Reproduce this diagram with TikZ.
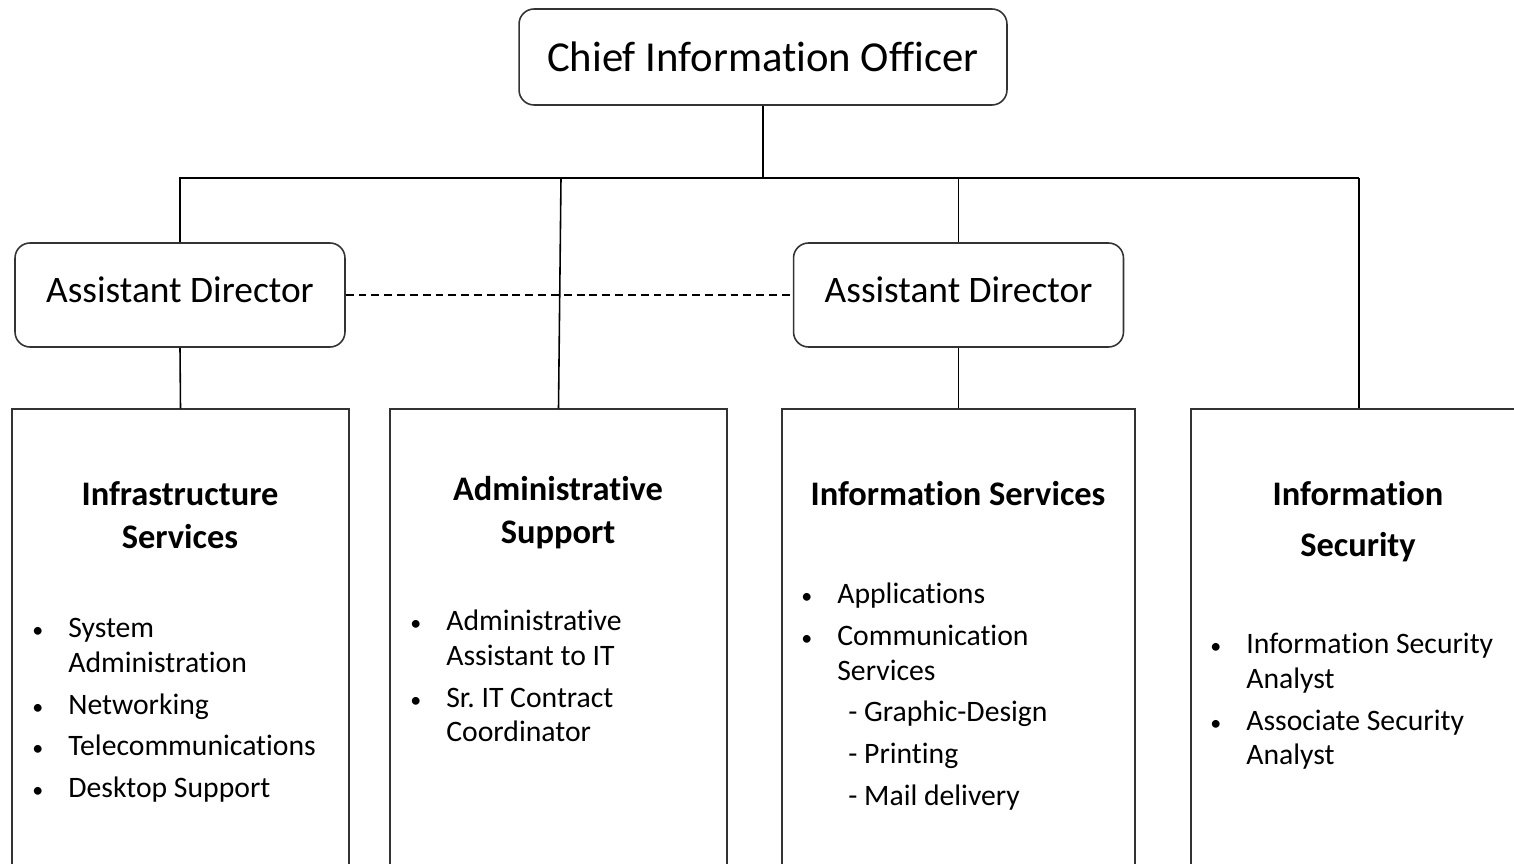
\documentclass[tikz,border=0pt]{standalone}
\usepackage{fontspec}
\setmainfont{Carlito}[Ligatures=NoCommon]
\usetikzlibrary{positioning}

\newcommand{\bul}{\makebox[0.74cm][l]{\hspace*{0.02cm}\fontsize{12.5}{12.5}\selectfont\textbullet}}
\newcommand{\cont}{\hspace*{0.74cm}}

\begin{document}
\begin{tikzpicture}[x=0.02cm, y=-0.02cm,
    mgr/.style={draw=black!80, line width=0.9pt, rounded corners=0.3cm, align=center},
    unit/.style={draw=black!80, line width=0.9pt, minimum width=6.74cm, minimum height=9.82cm},
    title/.style={anchor=north, inner sep=0pt, align=center, font=\bfseries\fontsize{19.6}{24.4}\selectfont},
    items/.style={anchor=north west, inner sep=0pt, align=left, font=\fontsize{16.9}{19.85}\selectfont},
    link/.style={line width=0.9pt}]

    \useasboundingbox (0,0) rectangle (1514,864);
    \clip (0,0) rectangle (1514,864);

    % top level
    \node[mgr, minimum width=9.76cm, minimum height=1.92cm, font=\fontsize{24.3}{28}\selectfont] (cio) at (763,57) {Chief Information Officer};
    \node[mgr, minimum width=6.6cm, minimum height=2.08cm, text depth=0.2cm, font=\fontsize{21.3}{25}\selectfont] (ad1) at (180,295) {Assistant Director};
    \node[mgr, minimum width=6.6cm, minimum height=2.08cm, text depth=0.2cm, font=\fontsize{21.3}{25}\selectfont] (ad2) at (958.5,295) {Assistant Director};

    % units
    \node[unit] (infra) at (180.5,654.5) {};
    \node[unit] (admin) at (558.5,654.5) {};
    \node[unit, minimum width=7.06cm] (infoserv) at (958.5,654.5) {};
    \node[unit, minimum width=6.8cm] (infosec) at (1361,654.5) {};

    \node[title] (infratitle) at (180,475) {\strut Infrastructure\\Services};
    \node[title] (admintitle) at (558,470) {\strut Administrative\\Support};
    \node[title] (infoservtitle) at (958,475) {\strut Information Services};
    \node[title] (infosectitle) at (1358,475) {\strut Information\\[4.5pt]Security};

    \node[items] (infralist) at (31,612.5) {\strut\bul System\\\cont Administration\\[4pt]
        \bul Networking\\[4pt]\bul Telecommunications\\[4pt]\bul Desktop Support};
    \node[items] (adminlist) at (409,605.5) {\strut\bul Administrative\\\cont Assistant to IT\\[4pt]
        \bul Sr.\ IT Contract\\\cont Coordinator};
    \node[items] (infoservlist) at (800,578.5) {\strut\bul Applications\\[4pt]
        \bul Communication\\\cont Services\\[4pt]
        \cont\hspace*{0.22cm}- Graphic-Design\\[4pt]
        \cont\hspace*{0.22cm}- Printing\\[4pt]
        \cont\hspace*{0.22cm}- Mail delivery};
    \node[items] (infoseclist) at (1209,628.5) {\strut\bul Information Security\\\cont Analyst\\[4pt]
        \bul Associate Security\\\cont Analyst};

    % connectors
    \coordinate (busL) at (179,178);
    \coordinate (busR) at (1359,178);
    \coordinate (admintap) at (561,178);
    \draw[link] (busL) -- (busR);
    \draw[link] (cio.south) -- (cio.south |- busL);
    \draw[link] (ad1.north) -- (ad1.north |- busL);
    \draw[link] (admintap) -- (admin.north);
    \draw[link] (ad2.north) -- (ad2.north |- busL);
    \draw[link] (busR) -- (busR |- infosec.north);
    \draw[link] (ad1.south) -- (infra.north);
    \draw[link] (ad2.south) -- (infoserv.north);
    \draw[link, dash pattern=on 4.5pt off 2.8pt] (ad1.east) -- (ad2.west);
\end{tikzpicture}
\end{document}
